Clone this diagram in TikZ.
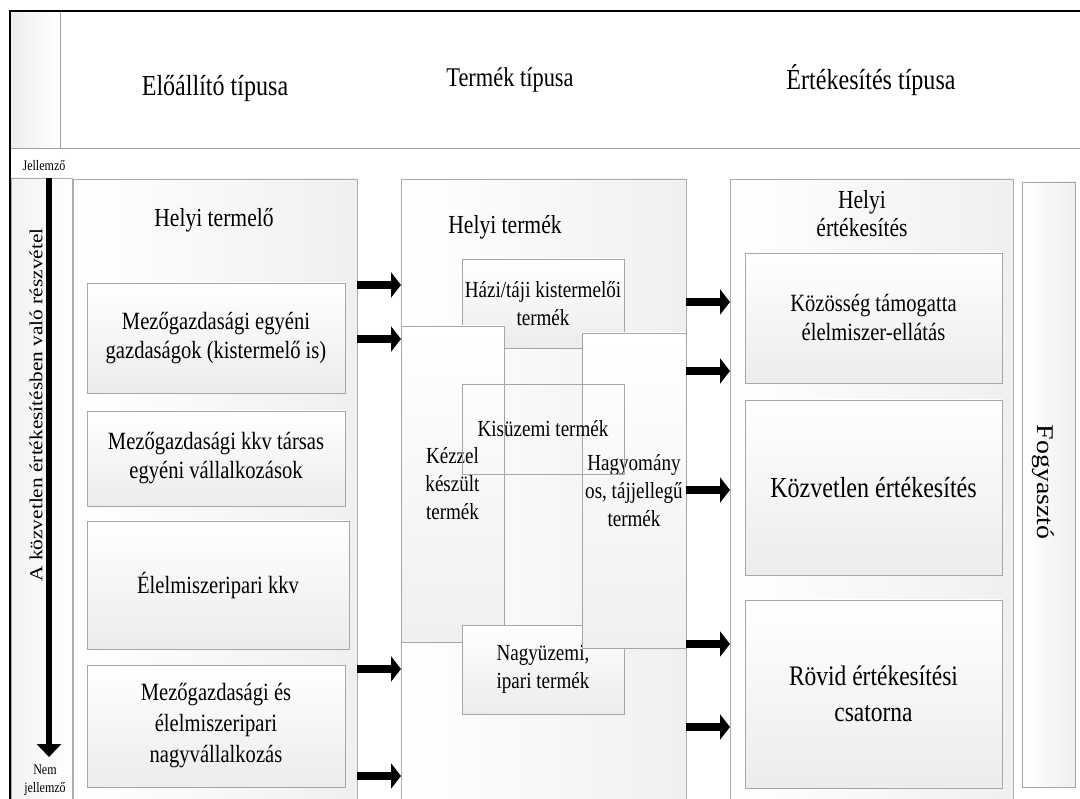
\documentclass[tikz,border=0pt]{standalone}
\usepackage{fontspec}
\setmainfont{Liberation Serif}[FakeStretch=0.83]
\newfontfamily\rotfont{Liberation Serif}[FakeStretch=1.16]
\usetikzlibrary{arrows.meta,fit}
\begin{document}
\begin{tikzpicture}[x=1pt,y=-1pt,
  every node/.style={inner sep=0pt,outer sep=0pt,text=black},
  colbox/.style={draw=gray!65,line width=0.7pt,left color=white,right color=gray!12},
  inbox/.style={draw=gray!70,line width=0.7pt,top color=white,bottom color=gray!15,align=center},
  openbox/.style={draw=gray!70,line width=0.7pt,align=center},
  hdr/.style={font=\fontsize{29}{32}\selectfont},
  ttl/.style={font=\fontsize{26}{28}\selectfont,align=center},
  ta/.style={font=\fontsize{24.8}{29}\selectfont,align=center},
  tb/.style={font=\fontsize{23}{28}\selectfont,align=center},
  tsmall/.style={font=\fontsize{14.5}{18}\selectfont,align=center},
  bigarrow/.style={line width=8pt,-{Triangle[length=10pt,width=25pt]}},
  vline/.style={line width=5.5pt,-{Triangle[length=13pt,width=24pt]}}]
\useasboundingbox (0,0) rectangle (1080,799);
\clip (0,0) rectangle (1080,799);
\fill[white] (0,0) rectangle (1080,799);
% header
\node[fit={(10,11)(60,148)},left color=gray!14,right color=white] (hcell) {};
\draw[gray!75,line width=0.8pt] (hcell.north east) -- (hcell.south east);
\draw[gray!75,line width=0.8pt] (10,148) -- (1080,148);
\draw[line width=2.4pt] (10,830) -- (10,11) -- (1085,11);
\node[hdr] (h1) at (215,89) {Előállító típusa};
\node[hdr,font=\fontsize{27}{30}\selectfont] (h2) at (510,80) {Termék típusa};
\node[hdr] (h3) at (871,80) {Értékesítés típusa};
% left scale column
\node[fit={(11,178)(72,830)},draw=gray!65,line width=0.7pt,left color=gray!10,right color=white] (lbox) {};
\node[tsmall] (jel) at (44,166) {Jellemző};
\coordinate (aend) at (49,757);
\draw[vline] (lbox.north -| aend) -- (aend);
\node[font=\rotfont\fontsize{18.4}{20}\selectfont,rotate=90] (scale) at (36,405) {A közvetlen értékesítésben való részvétel};
\node[tsmall] (nemjel) at (45,780) {Nem\\jellemző};
% column 1
\node[colbox,fit={(73,179)(357,830)}] (prod) {};
\node[ttl] (prodt) at (214,220) {Helyi termelő};
\node[inbox,fit={(87,283)(345,393)}] (p1) {};
\node[ta] at (p1.center) {Mezőgazdasági egyéni\\gazdaságok (kistermelő is)};
\node[inbox,fit={(87,411)(345,506)}] (p2) {};
\node[ta] at (p2.center) {Mezőgazdasági kkv társas\\egyéni vállalkozások};
\node[inbox,fit={(87,521)(349,649)}] (p3) {};
\node[ta] at (p3.center) {Élelmiszeripari kkv};
\node[inbox,fit={(87,665)(345,787)}] (p4) {};
\node[ta,font=\fontsize{24.8}{31}\selectfont] at (p4.center) {Mezőgazdasági és\\élelmiszeripari\\nagyvállalkozás};
% column 2
\node[colbox,fit={(401,179)(686,830)}] (term) {};
\node[ttl] (termt) at (505,227) {Helyi termék};
\node[inbox,fit={(462,259)(624,348)}] (hazi) {};
\node[tb] at (hazi.center) {Házi/táji kistermelői\\termék};
\node[inbox,fit={(401,326)(504,642)},top color=white,bottom color=gray!12] (kez) {};
\node[inbox,fit={(462,625)(624,714)}] (nagy) {};
\node[tb] at (nagy.center) {Nagyüzemi,\\ipari termék};
\node[inbox,fit={(582,333)(686,648)},top color=white,bottom color=gray!12] (hagy) {};
\node[tb] at (kez.center) {Kézzel\\készült\\termék};
\node[tb] at (hagy.center) {Hagyomány\\os, tájjellegű\\termék};
\node[openbox,fit={(462,384)(624,474)}] (kis) {};
\node[tb] at (kis.center) {Kisüzemi termék};
% column 3
\node[colbox,fit={(730,179)(1013,830)}] (sales) {};
\node[ttl] (salest) at (862,214) {Helyi\\értékesítés};
\node[inbox,fit={(745,253)(1002,383)}] (s1) {};
\node[ta] at (s1.center) {Közösség támogatta\\élelmiszer-ellátás};
\node[inbox,fit={(745,400)(1002,575)}] (s2) {};
\node[font=\fontsize{29}{30}\selectfont] at (s2.center) {Közvetlen értékesítés};
\node[inbox,fit={(745,600)(1002,788)}] (s3) {};
\node[font=\fontsize{28.3}{36}\selectfont,align=center] at (s3.center) {Rövid értékesítési\\csatorna};
% consumer
\node[inbox,fit={(1022,182)(1075,787)},left color=white,right color=gray!12] (fog) {};
\node[font=\rotfont\fontsize{24}{28}\selectfont,rotate=-90] (fogt) at (1043,482) {Fogyasztó};
% arrows column 1 -> column 2
\foreach \yy in {285,339,669,776}
  \draw[bigarrow] (prod.east |- 0,\yy) -- (term.west |- 0,\yy);
% arrows column 2 -> column 3
\foreach \yy in {302,371,490,644,727}
  \draw[bigarrow] (term.east |- 0,\yy) -- (sales.west |- 0,\yy);
\end{tikzpicture}
\end{document}
